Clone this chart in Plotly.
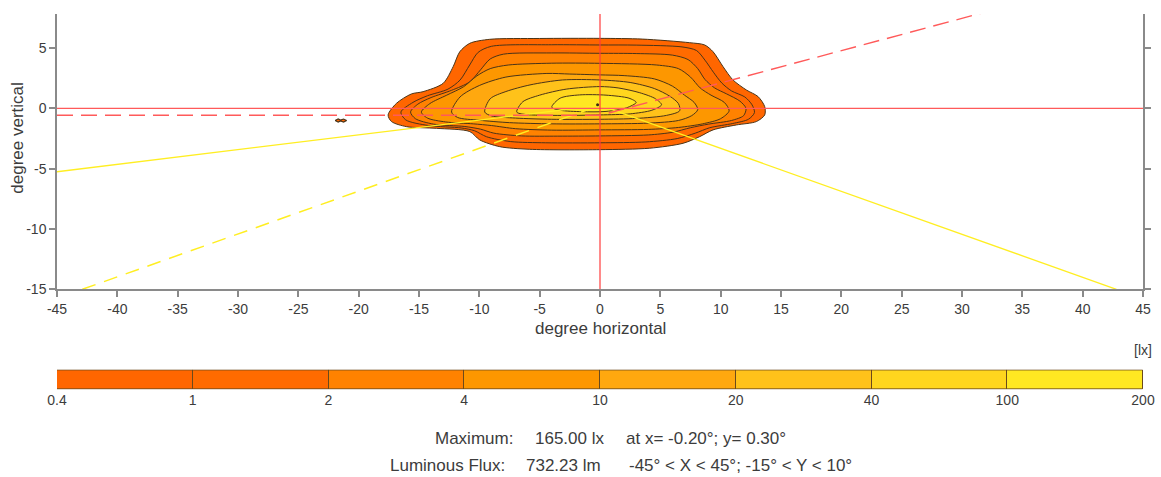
import plotly.graph_objects as go

# ---- isolux levels [lx] and the fill colour of each band (levels[i] .. levels[i+1])
levels = [0.4, 1, 2, 4, 10, 20, 40, 100, 200]
level_labels = ["0.4", "1", "2", "4", "10", "20", "40", "100", "200"]
band_colors = ["#ff6600", "#ff6b00", "#ff8200", "#fd9700", "#ffa80f",
               "#ffc21a", "#ffd61e", "#ffe822"]

# ---- isolux curves in degrees (horizontal, vertical), one closed curve per level
iso_04 = [(-17.56, -0.54), (-17.28, -1.09), (-16.04, -1.51), (-13.56, -1.65), (-10.79, -1.92),
          (-9.97, -2.61), (-8.31, -3.17), (-5.82, -3.39), (0.0, -3.42), (4.12, -3.30),
          (6.88, -2.89), (8.26, -2.34), (9.37, -1.78), (11.3, -1.37), (12.96, -1.09),
          (13.65, -0.54), (13.65, 0.15), (13.1, 0.98), (12.13, 1.53), (11.02, 2.36),
          (10.2, 3.46), (9.37, 4.70), (8.68, 5.26), (7.43, 5.45), (3.5, 5.75), (0.0, 5.81),
          (-5.0, 5.80), (-9.14, 5.73), (-10.79, 5.40), (-11.62, 4.70), (-12.17, 3.46),
          (-13.0, 2.08), (-14.66, 1.39), (-15.63, 1.20), (-16.87, 0.42)]
iso_1 = [(-16.5, -0.3), (-16.1, -0.95), (-14.2, -1.42), (-11.5, -1.62), (-10.4, -1.85),
         (-9.4, -2.35), (-7.4, -2.75), (-4.5, -2.85), (0.0, -2.85), (3.8, -2.78),
         (6.4, -2.5), (7.9, -2.05), (9.1, -1.6), (11.0, -1.25), (12.3, -0.9),
         (12.8, -0.35), (12.6, 0.3), (12.0, 0.95), (10.9, 1.45), (10.1, 2.1),
         (9.4, 3.0), (8.7, 4.0), (8.0, 4.8), (6.8, 5.1), (3.0, 5.25), (0.0, 5.26),
         (-4.0, 5.28), (-9.0, 5.15), (-10.1, 4.65), (-10.8, 3.6), (-11.6, 2.35),
         (-12.6, 1.6), (-14.3, 1.05), (-15.5, 0.5)]
iso_2 = [(-15.7, -0.3), (-15.3, -0.85), (-13.8, -1.3), (-11.2, -1.5), (-9.9, -1.72),
         (-8.8, -2.05), (-6.5, -2.28), (-3.5, -2.3), (0.0, -2.28), (4.0, -2.2),
         (6.0, -1.98), (7.5, -1.6), (9.0, -1.3), (10.9, -1.0), (11.9, -0.6),
         (12.1, 0.0), (11.6, 0.6), (10.5, 1.2), (9.5, 1.7), (8.7, 2.4), (8.1, 3.3),
         (7.3, 4.05), (6.0, 4.42), (3.0, 4.55), (0.0, 4.57), (-4.0, 4.6), (-8.0, 4.5),
         (-9.1, 4.1), (-9.9, 3.2), (-10.8, 2.2), (-12.3, 1.5), (-14.0, 0.9), (-15.1, 0.35)]
iso_4 = [(-14.8, -0.3), (-14.3, -0.8), (-12.8, -1.12), (-10.5, -1.28), (-9.0, -1.42),
         (-7.0, -1.68), (-4.0, -1.8), (0.0, -1.78), (4.0, -1.74), (6.5, -1.58),
         (8.5, -1.28), (10.0, -0.85), (10.7, -0.2), (10.3, 0.5), (9.2, 1.1), (8.3, 1.7),
         (7.5, 2.6), (6.5, 3.3), (4.7, 3.6), (0.0, 3.74), (-4.0, 3.75), (-7.6, 3.6),
         (-9.1, 3.3), (-10.2, 2.7), (-11.3, 1.8), (-12.7, 1.1), (-14.1, 0.4)]
iso_10 = [(-12.3, -0.3), (-11.8, -0.75), (-10.0, -0.98), (-7.5, -1.18), (-4.0, -1.28),
          (0.0, -1.28), (4.0, -1.22), (6.5, -1.0), (7.6, -0.6), (8.1, -0.1), (7.8, 0.5),
          (7.0, 1.1), (6.0, 1.85), (4.5, 2.45), (2.0, 2.72), (0.0, 2.78), (-2.5, 2.85),
          (-4.4, 2.9), (-7.8, 2.6), (-10.0, 1.9), (-11.6, 0.95)]
iso_20 = [(-9.55, -0.3), (-9.0, -0.62), (-7.0, -0.8), (-4.0, -0.9), (0.0, -0.9),
          (3.0, -0.83), (5.5, -0.58), (6.6, -0.2), (6.5, 0.4), (5.8, 1.0), (4.5, 1.65),
          (2.5, 2.15), (0.0, 2.36), (-3.1, 2.36), (-5.8, 1.95), (-7.8, 1.4), (-9.1, 0.8)]
iso_40 = [(-6.9, -0.3), (-6.2, -0.5), (-3.5, -0.58), (0.0, -0.54), (2.5, -0.45),
          (4.3, -0.15), (5.1, 0.3), (4.6, 0.8), (3.3, 1.3), (1.5, 1.7), (0.0, 1.81),
          (-2.8, 1.6), (-5.0, 1.1), (-6.4, 0.55)]
iso_100 = [(-4.0, 0.1), (-3.3, -0.15), (-1.5, -0.27), (0.5, -0.25), (2.2, 0.05),
           (3.0, 0.5), (2.4, 0.85), (0.5, 1.1), (-1.7, 1.12), (-3.3, 0.85)]
# small separate 0.4 lx island
iso_04_island = [(-21.95, -1.0), (-21.7, -0.88), (-21.5, -0.97), (-21.25, -0.88),
                 (-21.0, -1.0), (-21.25, -1.13), (-21.5, -1.04), (-21.7, -1.13)]

iso_curves = [iso_04, iso_1, iso_2, iso_4, iso_10, iso_20, iso_40, iso_100]

# ---- position of maximum
max_x, max_y = -0.20, 0.30

# ---- reference lines (degrees)
hline_x, hline_y = [-45, 45], [0, 0]
vline_x, vline_y = [0, 0], [-15, 7.83]
cutoff_x, cutoff_y = [-45, 0, 40], [-0.57, -0.57, 10.15]
road_left_x, road_left_y = [-45, 0], [-5.25, 0.25]
road_left_dash_x, road_left_dash_y = [-42.9, 0], [-15, 0.25]
road_right_x, road_right_y = [0, 42.8], [0.25, -15]

x_ticks = list(range(-45, 50, 5))
y_ticks = [-15, -10, -5, 0, 5]

FONT = "Liberation Sans, Arial, sans-serif"
TXT = "#3c3c3c"
AX = "#8a8a8a"
CONTOUR_LINE = "#4a3418"

fig = go.Figure()


def closed(pts):
    xs = [p[0] for p in pts] + [pts[0][0]]
    ys = [p[1] for p in pts] + [pts[0][1]]
    return xs, ys


for curve, color in zip(iso_curves, band_colors):
    xs, ys = closed(curve)
    fig.add_trace(go.Scatter(x=xs, y=ys, mode="lines", fill="toself", fillcolor=color,
                             line=dict(color=CONTOUR_LINE, width=1, shape="spline", smoothing=0.8),
                             hoverinfo="skip", showlegend=False))

xs, ys = closed(iso_04_island)
fig.add_trace(go.Scatter(x=xs, y=ys, mode="lines", fill="toself", fillcolor=band_colors[0],
                         line=dict(color=CONTOUR_LINE, width=1.2), hoverinfo="skip",
                         showlegend=False))

# road edge lines
fig.add_trace(go.Scatter(x=road_left_x, y=road_left_y, mode="lines",
                         line=dict(color="#ffee22", width=1.3), showlegend=False, hoverinfo="skip"))
fig.add_trace(go.Scatter(x=road_right_x, y=road_right_y, mode="lines",
                         line=dict(color="#ffee22", width=1.3), showlegend=False, hoverinfo="skip"))
fig.add_trace(go.Scatter(x=road_left_dash_x, y=road_left_dash_y, mode="lines",
                         line=dict(color="#ffee22", width=1.5, dash="14px,9px"),
                         showlegend=False, hoverinfo="skip"))

# axes cross and cut-off line
fig.add_trace(go.Scatter(x=hline_x, y=hline_y, mode="lines",
                         line=dict(color="#ff5a5a", width=1.2), showlegend=False, hoverinfo="skip"))
fig.add_trace(go.Scatter(x=vline_x, y=vline_y, mode="lines",
                         line=dict(color="#ff3c3c", width=1.2), showlegend=False, hoverinfo="skip"))
fig.add_trace(go.Scatter(x=cutoff_x, y=cutoff_y, mode="lines",
                         line=dict(color="#ff5a5a", width=1.4, dash="16px,8px"),
                         showlegend=False, hoverinfo="skip"))

fig.add_trace(go.Scatter(x=[max_x], y=[max_y], mode="markers",
                         marker=dict(color="#3a2a10", size=3), showlegend=False, hoverinfo="skip"))

# colour legend drawn as a strip of equal-width bands
fig.add_trace(go.Bar(x=[i + 0.5 for i in range(len(band_colors))], y=[1] * len(band_colors),
                     width=1, marker=dict(color=band_colors, line=dict(color="#6b4a1c", width=1)),
                     xaxis="x2", yaxis="y2", cliponaxis=False, showlegend=False,
                     hoverinfo="skip"))

axis_common = dict(showgrid=False, zeroline=False, showline=True, linecolor=AX, linewidth=1.5,
                   ticks="outside", ticklen=6, tickwidth=1.5, tickcolor=AX, automargin=False,
                   tickfont=dict(family=FONT, size=14, color=TXT))

fig.update_layout(
    width=1161, height=477,
    margin=dict(l=57, r=18, t=14, b=0, pad=0, autoexpand=False),
    paper_bgcolor="white", plot_bgcolor="white",
    font=dict(family=FONT, color=TXT),
    xaxis=dict(domain=[0, 1], range=[-45, 45], tickvals=x_ticks,
               ticktext=[str(v) for v in x_ticks], anchor="y", **axis_common),
    yaxis=dict(domain=[0.4054, 1], range=[-15, 7.83], tickvals=y_ticks,
               ticktext=[str(v) for v in y_ticks], mirror="ticks", anchor="x", **axis_common),
    xaxis2=dict(domain=[0, 1], range=[0, 8], anchor="y2", showgrid=False, zeroline=False,
                showline=False, ticks="", automargin=False, tickvals=list(range(len(levels))),
                ticktext=level_labels, tickfont=dict(family=FONT, size=14, color=TXT)),
    yaxis2=dict(domain=[0.1888, 0.2324], range=[-0.03, 1.03], visible=False, anchor="x2",
                automargin=False),
    bargap=0,
)

ann = dict(showarrow=False, xref="paper", yref="paper", font=dict(family=FONT, size=17, color=TXT))
fig.add_annotation(text="degree vertical", x=-0.0363, y=0.732, textangle=-90,
                   xanchor="center", yanchor="middle", **ann)
fig.add_annotation(text="degree horizontal", x=0.5, y=0.3218, xanchor="center",
                   yanchor="middle", **ann)
fig.add_annotation(text="[lx]", x=1.0, y=0.2743, xanchor="center", yanchor="middle",
                   showarrow=False, xref="paper", yref="paper",
                   font=dict(family=FONT, size=14, color=TXT))

info_rows = [
    ("Maximum:", "165.00 lx", "at x= -0.20°; y= 0.30°", 0.0842, 0.3460, 0.4380, 0.5218),
    ("Luminous Flux:", "732.23 lm", "-45° < X < 45°; -15° < Y < 10°", 0.0259, 0.3045, 0.4297, 0.5246),
]
for label, value, note, yy, x1, x2, x3 in info_rows:
    fig.add_annotation(text=label, x=x1, y=yy, xanchor="left", yanchor="middle", **ann)
    fig.add_annotation(text=value, x=x2, y=yy, xanchor="left", yanchor="middle", **ann)
    fig.add_annotation(text=note, x=x3, y=yy, xanchor="left", yanchor="middle", **ann)

fig.write_html("out.html")
